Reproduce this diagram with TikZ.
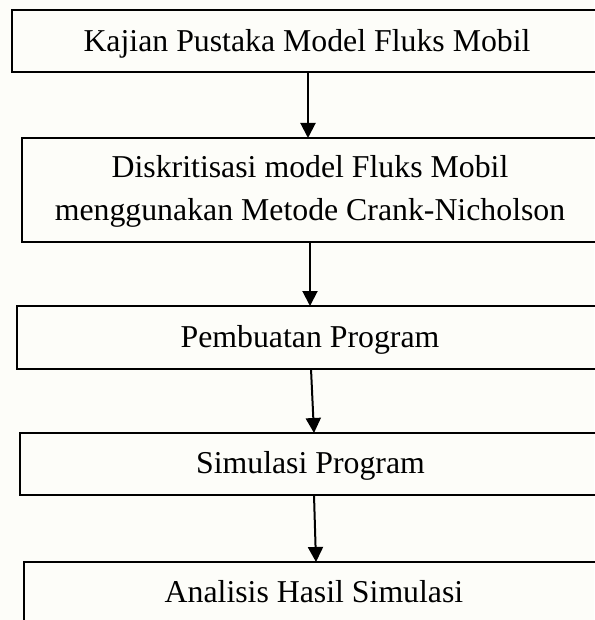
\documentclass[tikz,border=0pt]{standalone}
\usepackage{fontspec}
\setmainfont{Liberation Serif}
\usetikzlibrary{arrows.meta}
\definecolor{bgc}{rgb}{0.992,0.992,0.975}
\begin{document}
\begin{tikzpicture}[x=1pt,y=-1pt,
  box/.style={draw=black,line width=2pt,rectangle,inner sep=0pt,outer sep=0pt,anchor=north west,minimum width=#1},
  box/.default=600pt,
  txt/.style={anchor=base,inner sep=0pt,font=\fontsize{31.8}{43}\selectfont},
  arr/.style={line width=2pt,-{Triangle[width=15pt,length=15pt]}}]
\useasboundingbox[fill=bgc] (0,0) rectangle (594,620);
\node[box=608pt,minimum height=62pt] (b1) at (12,10) {};
\node[box=598pt,minimum height=104pt] (b2) at (22,138) {};
\node[box=603pt,minimum height=63pt] (b3) at (17,306) {};
\node[box=600pt,minimum height=62pt] (b4) at (20,433) {};
\node[box=596pt,minimum height=78pt] (b5) at (24,562) {};
\node[txt] (t1) at (307,52) {Kajian Pustaka Model Fluks Mobil};
\node[txt] (t2a) at (310,178) {Diskritisasi model Fluks Mobil};
\node[txt] (t2b) at (310,221) {menggunakan Metode Crank-Nicholson};
\node[txt] (t3) at (310,347) {Pembuatan Program};
\node[txt] (t4) at (310.5,473) {Simulasi Program};
\node[txt] (t5) at (314,602) {Analisis Hasil Simulasi};
\draw[arr] ([xshift=296pt]b1.south west) -- ([xshift=286pt]b2.north west);
\draw[arr] ([xshift=288pt]b2.south west) -- ([xshift=293pt]b3.north west);
\draw[arr] ([xshift=294pt]b3.south west) -- ([xshift=294pt]b4.north west);
\draw[arr] ([xshift=294pt]b4.south west) -- ([xshift=292pt]b5.north west);
\end{tikzpicture}
\end{document}
